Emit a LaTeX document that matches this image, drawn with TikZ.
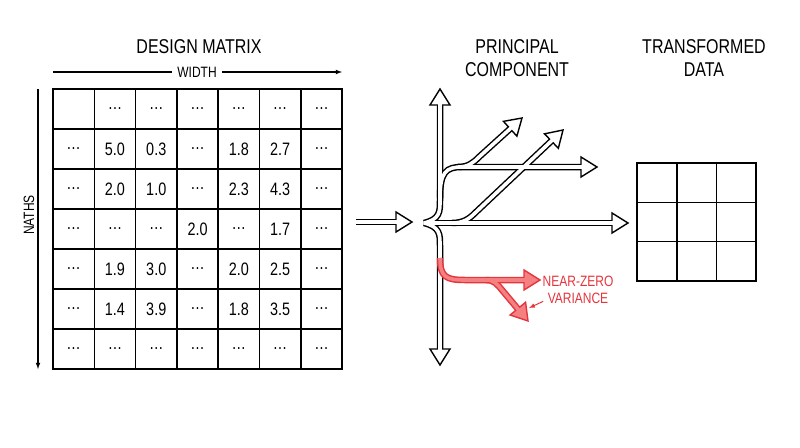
\documentclass[tikz,border=0pt]{standalone}
\usepackage{fontspec}
\setmainfont{Liberation Sans}[FakeStretch=0.8]
\usetikzlibrary{calc}
\definecolor{nzred}{RGB}{228,52,60}
\definecolor{nzfill}{RGB}{244,128,130}

\tikzset{
  cell/.style={draw, line width=1.6pt, minimum width=41.3pt, minimum height=40pt, inner sep=0pt, align=center, font=\fontsize{18}{18}\selectfont},
  tcell/.style={draw, line width=1.6pt, minimum width=39.7pt, minimum height=39.3pt, inner sep=0pt},
  title/.style={font=\fontsize{20}{23}\selectfont, align=center},
  small/.style={font=\fontsize{15}{17}\selectfont, align=center},
  outer/.style={line width=6.5pt, shorten >=14pt},
  inner/.style={white, line width=3.6pt, shorten >=12pt},
}

% open arrow head: tip, point on the stem, outline, fill
\newcommand\ahead[4]{%
  \coordinate (hb) at ($(#1)!16pt!(#2)$);
  \draw[#3, line width=1.4pt, line join=miter, fill=#4]
    (#1) -- ($(hb)!10pt!90:(#1)$) -- ($(hb)!10pt!-90:(#1)$) -- cycle;
}

\begin{document}
\begin{tikzpicture}[x=1pt, y=-1pt]
\useasboundingbox (0,0) rectangle (800,447);

% design matrix
\node[title] (dm) at (199,47) {DESIGN MATRIX};
\foreach \row [count=\r] in {
  {{},\dots,\dots,\dots,\dots,\dots,\dots},
  {\dots,5.0,0.3,\dots,1.8,2.7,\dots},
  {\dots,2.0,1.0,\dots,2.3,4.3,\dots},
  {\dots,\dots,\dots,2.0,\dots,1.7,\dots},
  {\dots,1.9,3.0,\dots,2.0,2.5,\dots},
  {\dots,1.4,3.9,\dots,1.8,3.5,\dots},
  {\dots,\dots,\dots,\dots,\dots,\dots,\dots}}
  \foreach \v [count=\c] in \row
    \node[cell] (cell-\r-\c) at ({53+41.3*(\c-0.5)},{89+40*(\r-0.5)}) {\v};

% width and length arrows
\node[small, fill=white, inner xsep=5pt] (wd) at (197,72) {WIDTH};
\coordinate (wl) at (53,72);
\coordinate (wr) at (342,72);
\draw[line width=1.1pt] (wl) -- (wd.west);
\draw[line width=1.1pt, -latex] (wd.east) -- (wr);
\coordinate (lt) at (38,89);
\coordinate (lb) at (38,369);
\draw[line width=1.1pt, -latex] (lt) -- (lb);
\node[small, rotate=90] (ln) at (29,215) {NATHS};

% input arrow
\coordinate (in0) at (356,222);
\coordinate (in1) at (412,222);
\draw[outer] (in0) -- (in1);
\ahead{in1}{in0}{black}{white}
\draw[inner] (in0) -- (in1);

% principal components
\node[title] (pc) at (517,58) {PRINCIPAL\\COMPONENT};
\coordinate (br) at (424,223);
\coordinate (up) at (440,89);
\coordinate (dn) at (440,365);
\coordinate (e0) at (628,223);
\coordinate (e1) at (597,167);
\coordinate (e2) at (522,118);
\coordinate (e3) at (563,130);
\foreach \s in {outer, inner} {
  \draw[\s] (br) .. controls (440,219) and (440,212) .. (440,200) -- (up);
  \draw[\s] (br) .. controls (440,227) and (440,234) .. (440,246) -- (dn);
  \draw[\s] (br) -- (e0);
  \draw[\s] (440,198) .. controls (440,172) and (446,167) .. (462,167) -- (e1);
  \draw[\s] (458,167) .. controls (468,167) and (473,163) .. (479,157) -- (e2);
  \draw[\s] (452,223) .. controls (463,223) and (469,219) .. (475,213) -- (e3);
  \ifnum\pdfstrcmp{\s}{outer}=0
    \ahead{up}{440,120}{black}{white}
    \ahead{dn}{440,330}{black}{white}
    \ahead{e0}{600,223}{black}{white}
    \ahead{e1}{570,167}{black}{white}
    \ahead{e2}{500,138}{black}{white}
    \ahead{e3}{540,152}{black}{white}
  \fi
}

% near-zero variance components
\coordinate (r1) at (540,280);
\coordinate (r2) at (528,321);
\draw[outer, nzred] (440,258) .. controls (440,277) and (446,280) .. (465,280) -- (r1);
\draw[outer, nzred] (486,280) .. controls (494,280) and (497,284) .. (502,290) -- (r2);
\ahead{r1}{510,280}{nzred}{nzfill}
\ahead{r2}{505,293}{nzred}{nzfill}
\draw[inner, nzfill] (440,258) .. controls (440,277) and (446,280) .. (465,280) -- (r1);
\draw[inner, nzfill] (486,280) .. controls (494,280) and (497,284) .. (502,290) -- (r2);
\node[small, text=nzred] (nz) at (578,290) {NEAR-ZERO\\VARIANCE};
\coordinate (nzp) at (529,308);
\draw[nzred, line width=1pt, -latex] (nz.south west) ++(4,-6) -- (nzp);

% transformed data
\node[title] (td) at (704,58) {TRANSFORMED\\DATA};
\foreach \r in {1,2,3}
  \foreach \c in {1,2,3}
    \node[tcell] (tcell-\r-\c) at ({637+39.7*(\c-0.5)},{163+39.3*(\r-0.5)}) {};
\end{tikzpicture}
\end{document}
